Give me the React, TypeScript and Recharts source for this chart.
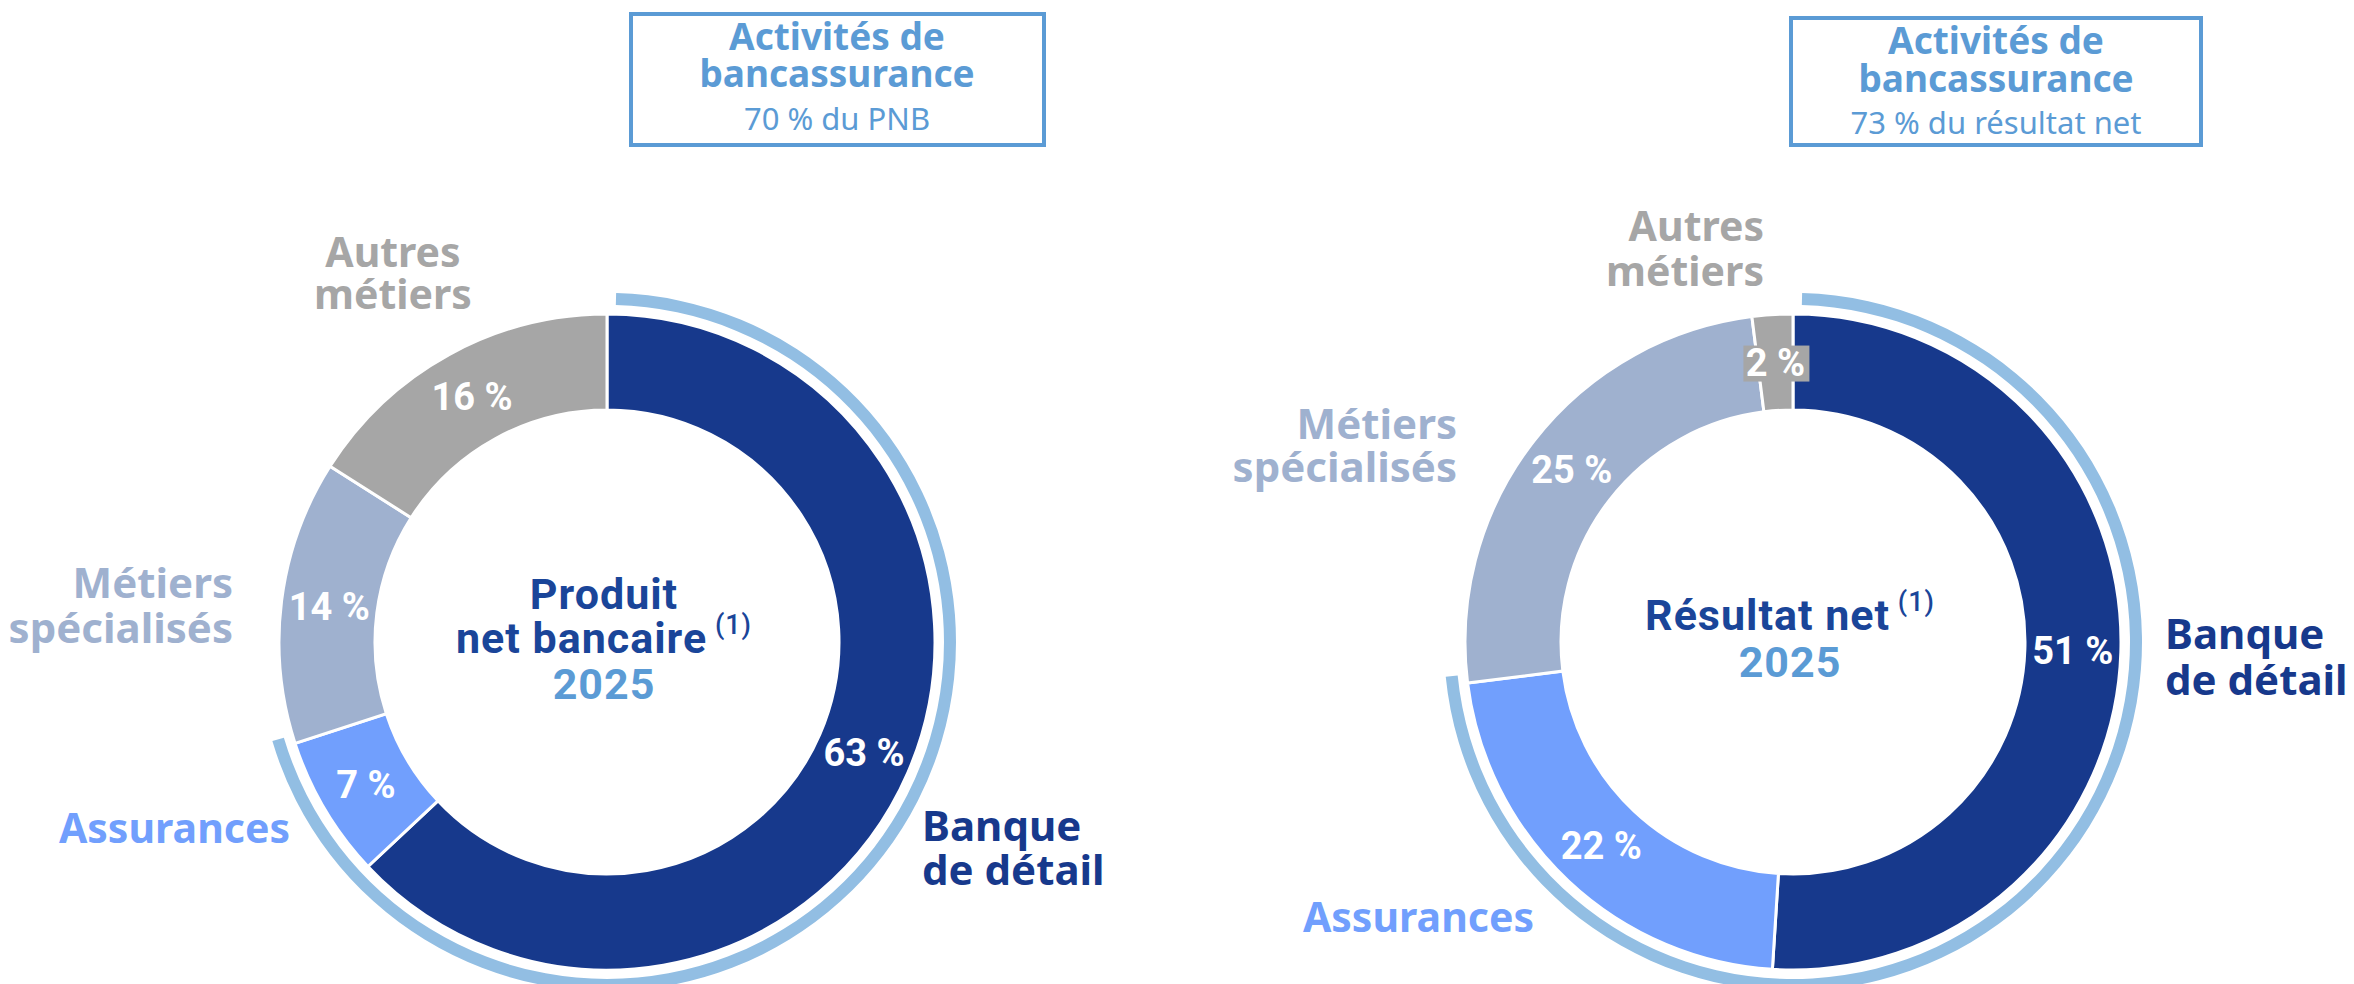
// Répartition du PNB et du résultat net 2025 par métier — two donuts side by side.
// A light-blue halo outside each ring marks the bancassurance perimeter
// (Banque de détail + Assurances).

import { Cell, Pie, PieChart } from 'recharts';

const segments = ['Banque de détail', 'Assurances', 'Métiers spécialisés', 'Autres métiers'];
const pnbShares = [63, 7, 14, 16];
const resultShares = [51, 22, 25, 2];
const bancassuranceShares = [70, 73];
const boxTitles = ['70 % du PNB', '73 % du résultat net'];
const centerTitles = ['Produit net bancaire', 'Résultat net'];
const centerYear = '2025';

const COLORS = {
  segments: ['#17398C', '#719FFD', '#9FB1CF', '#A6A6A6'],
  halo: '#92BEE3',
  accent: '#5B9BD5',
  center: '#1A4599',
  white: '#FFFFFF',
};

const W = 2354;
const H = 984;
const RING = { inner: 232, outer: 328, haloIn: 337, haloOut: 349 };
const CENTERS = [
  { cx: 602, cy: 637 },
  { cx: 1788, cy: 637 },
];

const GEO = '"Noto Sans", "DejaVu Sans", sans-serif';
const NARROW = 'Roboto, "Liberation Sans", sans-serif';
const RADIAN = Math.PI / 180;

const toRows = (shares: number[]) =>
  segments.map((name, i) => ({ name, value: shares[i] }));

function pctLabel(props: any) {
  const { cx, cy, midAngle, innerRadius, outerRadius, value } = props;
  const r = (innerRadius + outerRadius) / 2;
  const x = cx + r * Math.cos(-midAngle * RADIAN);
  const y = cy + r * Math.sin(-midAngle * RADIAN);
  // tiny slice: the label gets its own grey backing, as in the source deck
  const small = value < 5;
  return (
    <g>
      {small && <rect x={x - 32} y={y - 17} width={66} height={36} fill={COLORS.segments[3]} />}
      <text
        x={x}
        y={y}
        fill={COLORS.white}
        textAnchor="middle"
        dominantBaseline="central"
        fontFamily={NARROW}
        fontWeight={700}
        fontSize={38}
      >
        {`${value} %`}
      </text>
    </g>
  );
}

function Donut({ shares, halo, idx }: { shares: number[]; halo: number; idx: number }) {
  const { cx, cy } = CENTERS[idx];
  return (
    <>
      <Pie
        data={[{ value: halo }, { value: 100 - halo }]}
        dataKey="value"
        cx={cx}
        cy={cy}
        innerRadius={RING.haloIn}
        outerRadius={RING.haloOut}
        startAngle={88.5}
        endAngle={-271.5}
        stroke="none"
        isAnimationActive={false}
      >
        <Cell fill={COLORS.halo} />
        <Cell fill="transparent" />
      </Pie>
      <Pie
        data={toRows(shares)}
        dataKey="value"
        cx={cx}
        cy={cy}
        innerRadius={RING.inner}
        outerRadius={RING.outer}
        startAngle={90}
        endAngle={-270}
        stroke="#FFFFFF"
        strokeWidth={3}
        label={pctLabel}
        labelLine={false}
        isAnimationActive={false}
      >
        {segments.map((s, i) => (
          <Cell key={s} fill={COLORS.segments[i]} />
        ))}
      </Pie>
    </>
  );
}

function Lines({
  x,
  ys,
  lines,
  color,
  anchor = 'middle',
  size = 41,
  family = GEO,
  weight = 700,
}: {
  x: number;
  ys: number[];
  lines: string[];
  color: string;
  anchor?: 'start' | 'middle' | 'end';
  size?: number;
  family?: string;
  weight?: number;
}) {
  return (
    <>
      {lines.map((l, i) => (
        <text
          key={l}
          x={x}
          y={ys[i]}
          fill={color}
          textAnchor={anchor}
          dominantBaseline="central"
          fontFamily={family}
          fontWeight={weight}
          fontSize={size}
        >
          {l}
        </text>
      ))}
    </>
  );
}

export default function App() {
  const [banque, assur, metiers, autres] = segments;
  const banqueLines = [banque.split(' ')[0], banque.split(' ').slice(1).join(' ')];
  const centerStyle = {
    fill: COLORS.center,
    fontFamily: NARROW,
    fontWeight: 700,
    fontSize: 43,
    letterSpacing: 1,
  };
  return (
    <div style={{ position: 'relative', width: W, height: H, background: '#fff' }}>
      <style>{'body{margin:0}'}</style>
      <PieChart width={W} height={H} style={{ position: 'absolute', left: 0, top: 0 }}>
        <Donut shares={pnbShares} halo={bancassuranceShares[0]} idx={0} />
        <Donut shares={resultShares} halo={bancassuranceShares[1]} idx={1} />
      </PieChart>
      <svg width={W} height={H} style={{ position: 'absolute', left: 0, top: 0, pointerEvents: 'none' }}>
        {/* title boxes */}
        <rect x={631} y={14} width={413} height={131} fill="none" stroke={COLORS.accent} strokeWidth={4} />
        <Lines x={837} ys={[35, 72]} lines={['Activités de', 'bancassurance']} color={COLORS.accent} size={37} />
        <Lines x={837} ys={[118]} lines={[boxTitles[0]]} color={COLORS.accent} size={31} weight={400} />
        <rect x={1791} y={18} width={410} height={127} fill="none" stroke={COLORS.accent} strokeWidth={4} />
        <Lines x={1996} ys={[39, 77]} lines={['Activités de', 'bancassurance']} color={COLORS.accent} size={37} />
        <Lines x={1996} ys={[122]} lines={[boxTitles[1]]} color={COLORS.accent} size={31} weight={400} />

        {/* left donut labels */}
        <Lines x={393} ys={[251, 293]} lines={autres.split(' ')} color={COLORS.segments[3]} />
        <Lines x={233} ys={[581, 626]} lines={metiers.split(' ')} color={COLORS.segments[2]} anchor="end" size={42} />
        <Lines x={290} ys={[827]} lines={[assur]} color={COLORS.segments[1]} anchor="end" />
        <Lines x={922} ys={[824, 868]} lines={banqueLines} color={COLORS.segments[0]} anchor="start" size={42} />

        {/* right donut labels */}
        <Lines x={1764} ys={[225, 270]} lines={autres.split(' ')} color={COLORS.segments[3]} anchor="end" />
        <Lines x={1457} ys={[422, 465]} lines={metiers.split(' ')} color={COLORS.segments[2]} anchor="end" size={42} />
        <Lines x={1534} ys={[916]} lines={[assur]} color={COLORS.segments[1]} anchor="end" />
        <Lines x={2165} ys={[632, 678]} lines={banqueLines} color={COLORS.segments[0]} anchor="start" size={42} />

        {/* centre titles */}
        <text x={604} y={594} textAnchor="middle" dominantBaseline="central" style={centerStyle}>
          {centerTitles[0].split(' ')[0]}
        </text>
        <text x={604} y={638} textAnchor="middle" dominantBaseline="central" style={centerStyle}>
          {centerTitles[0].split(' ').slice(1).join(' ')}
          <tspan fontSize={27} fontWeight={500} dy={-13}>{' (1)'}</tspan>
        </text>
        <text x={604} y={684} textAnchor="middle" dominantBaseline="central" style={{ ...centerStyle, fill: COLORS.accent }}>
          {centerYear}
        </text>

        <text x={1790} y={615} textAnchor="middle" dominantBaseline="central" style={centerStyle}>
          {centerTitles[1]}
          <tspan fontSize={27} fontWeight={500} dy={-13}>{' (1)'}</tspan>
        </text>
        <text x={1790} y={662} textAnchor="middle" dominantBaseline="central" style={{ ...centerStyle, fill: COLORS.accent }}>
          {centerYear}
        </text>
      </svg>
    </div>
  );
}
